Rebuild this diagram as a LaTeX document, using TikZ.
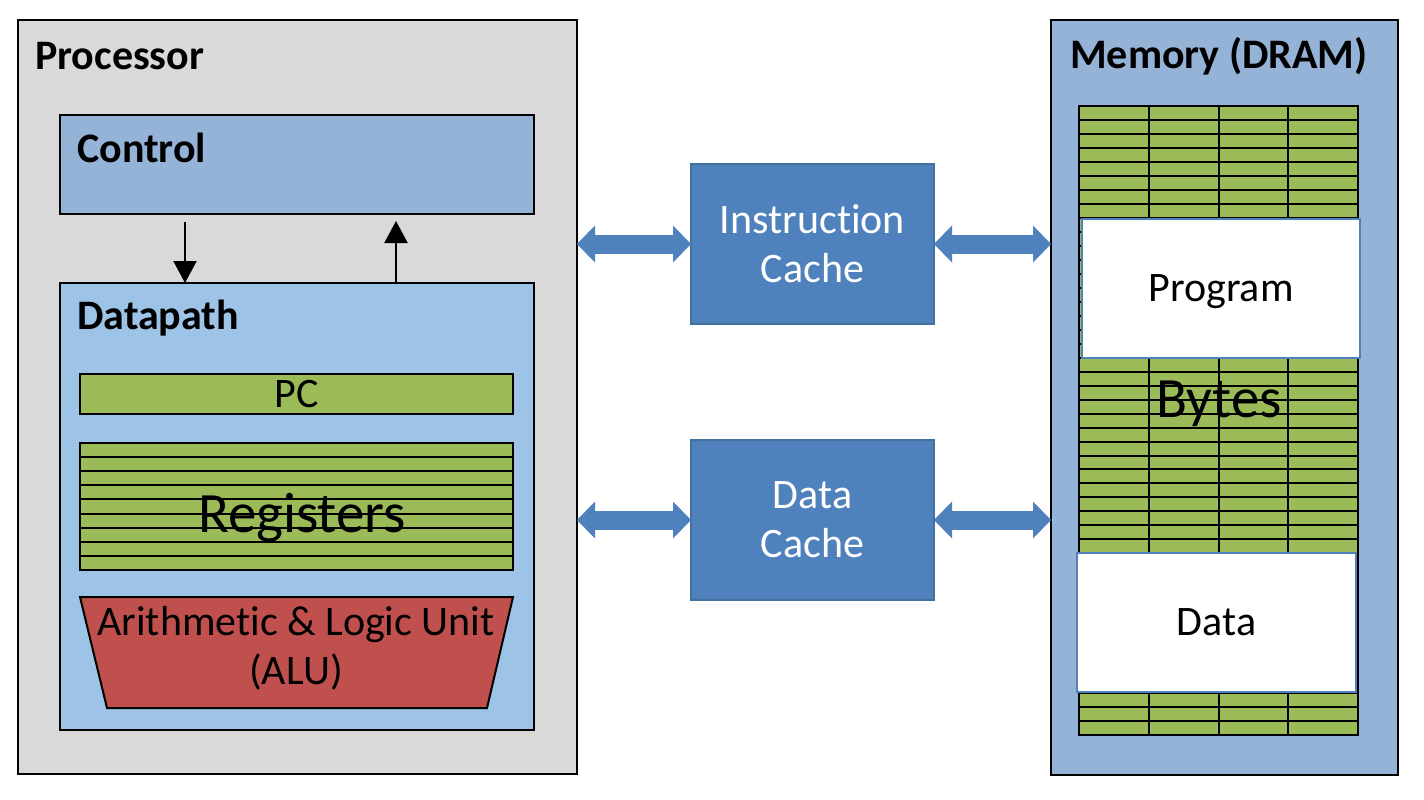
\documentclass[tikz,border=0pt]{standalone}
\usepackage{fontspec}
\setmainfont[Ligatures=NoCommon]{Carlito}
\usetikzlibrary{arrows.meta}

\definecolor{procgray}{HTML}{D9D9D9}
\definecolor{ctrlblue}{HTML}{95B3D7}
\definecolor{dpblue}{HTML}{9DC3E6}
\definecolor{cacheblue}{HTML}{4F81BD}
\definecolor{cacheedge}{HTML}{41719C}
\definecolor{reggreen}{HTML}{9BBB59}
\definecolor{alured}{HTML}{C0504D}

\newcommand{\fnt}{\fontsize{42}{49}\selectfont}
\newcommand{\bigfnt}{\fontsize{57}{62}\selectfont}
\newcommand{\regh}{14.11}   % one register row
\newcommand{\memh}{13.98}   % one memory row
\newcommand{\memw}{69.75}   % one memory column

\tikzset{
  unit/.style={draw=black, line width=2pt, inner sep=0pt, outer sep=0pt, anchor=north west},
  title/.style={font=\fnt\bfseries, anchor=base west, inner sep=0pt},
  cache/.style={unit, fill=cacheblue, draw=cacheedge, line width=1.5pt, text=white,
    font=\fnt, align=center, minimum width=243pt, minimum height=160pt},
  wbox/.style={unit, fill=white, draw=cacheblue, line width=1.5pt, font=\fnt, text depth=0pt},
  bus/.style={cacheblue, line width=19pt,
    {Triangle[length=18pt,width=37pt,line width=0pt]}-{Triangle[length=18pt,width=37pt,line width=0pt]}},
  ctl/.style={line width=2pt, -{Triangle[length=22pt,width=23pt]}},
}

\begin{document}
\begin{tikzpicture}[x=1pt,y=-1pt]
  \useasboundingbox[fill=white] (0,0) rectangle (1424,800);

  % processor side
  \node[unit, fill=procgray, minimum width=559pt, minimum height=754pt] (proc) at (18,20) {};
  \node[title] (proclbl) at ([shift={(17,50)}]proc.north west) {Processor};
  \node[unit, fill=ctrlblue, minimum width=474pt, minimum height=99pt] (ctrl) at (60,115) {};
  \node[title] (ctrllbl) at ([shift={(17,47)}]ctrl.north west) {Control};
  \node[unit, fill=dpblue, minimum width=474pt, minimum height=447pt] (dp) at (60,283) {};
  \node[title] (dplbl) at ([shift={(17,46)}]dp.north west) {Datapath};

  \coordinate (down) at (185,222);
  \coordinate (up) at (396,221);
  \draw[ctl] (down) -- (down |- dp.north);
  \draw[ctl] (up |- dp.north) -- (up);

  \node[unit, fill=reggreen, minimum width=433pt, minimum height=40pt, font=\fnt] (pc) at (80,374) {PC};
  \node[unit, fill=reggreen, minimum width=433pt, minimum height=127pt] (regs) at (80,443) {};
  \foreach \i in {1,...,8}
    \draw[line width=2pt] ([yshift=-\i*\regh pt]regs.north west) -- ([yshift=-\i*\regh pt]regs.north east);
  \node[font=\bigfnt, anchor=base, inner sep=0pt] (regslbl) at (302,532) {Registers};

  \draw[line width=2pt, fill=alured] (80,597) coordinate (alu1) -- (513,597) coordinate (alu2)
    -- (487,708) coordinate (alu3) -- (107,708) coordinate (alu4) -- cycle;
  \node[font=\fnt, align=center, inner sep=0pt] (alulbl) at (296,648) {Arithmetic \& Logic Unit\\(ALU)};

  % caches
  \node[cache] (icache) at (691,164) {Instruction\\Cache};
  \node[cache] (dcache) at (691,440) {Data\\Cache};

  % memory side
  \node[unit, fill=ctrlblue, minimum width=347pt, minimum height=755pt] (mem) at (1051,20) {};
  \node[title] (memlbl) at ([shift={(19,48)}]mem.north west) {Memory (DRAM)};
  \node[unit, fill=reggreen, minimum width=279pt, minimum height=629pt] (grid) at (1079,106) {};
  \foreach \i in {1,...,44}
    \draw[line width=2pt] ([yshift=-\i*\memh pt]grid.north west) -- ([yshift=-\i*\memh pt]grid.north east);
  \foreach \j in {1,2,3}
    \draw[line width=2pt] ([xshift=\j*\memw pt]grid.north west) -- ([xshift=\j*\memw pt]grid.south west);
  \node[font=\bigfnt, anchor=base, inner sep=0pt] (byteslbl) at (1219,417) {Bytes};
  \node[wbox, minimum width=278pt, minimum height=139pt] (prog) at (1082,219) {Program};
  \node[wbox, minimum width=279pt, minimum height=139pt] (data) at (1077,553) {Data};

  % buses
  \draw[bus] (proc.east |- icache.west) -- (icache.west);
  \draw[bus] (icache.east) -- (mem.west |- icache.east);
  \draw[bus] (proc.east |- dcache.west) -- (dcache.west);
  \draw[bus] (dcache.east) -- (mem.west |- dcache.east);
\end{tikzpicture}
\end{document}
